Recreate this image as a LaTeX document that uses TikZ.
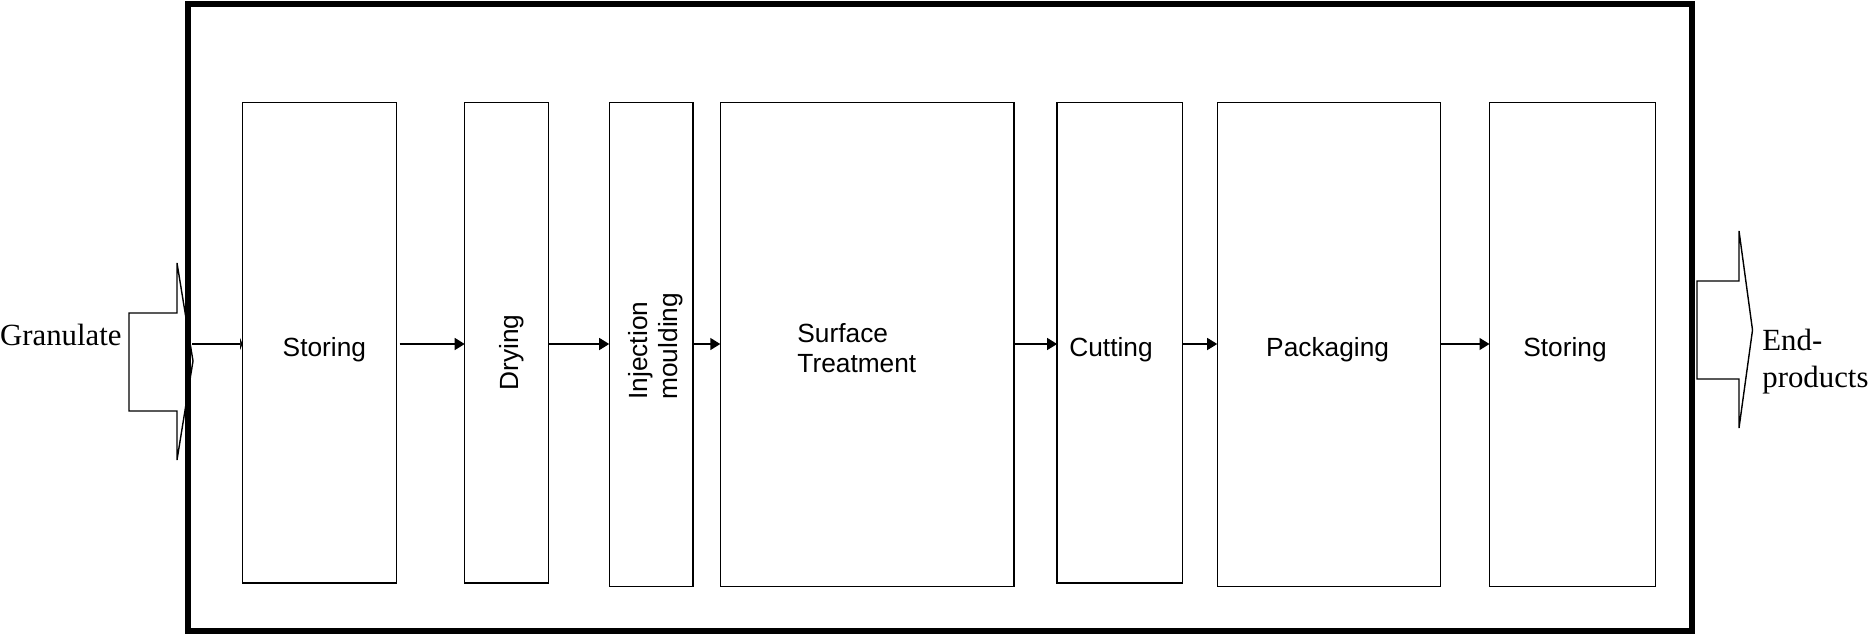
\documentclass[tikz,border=0pt]{standalone}
\usepackage{fontspec}
\setmainfont{Liberation Serif}
\setsansfont{Liberation Sans}
\usetikzlibrary{arrows.meta}
\begin{document}
\begin{tikzpicture}[x=0.5pt,y=-0.5pt,
  box/.style={draw, line width=0.7pt, inner sep=0pt, outer sep=0pt},
  frame/.style={draw, line width=3pt, inner sep=0pt, outer sep=0pt},
  lbl/.style={inner sep=0pt, font=\sffamily\fontsize{13.15}{15}\selectfont},
  slbl/.style={inner sep=0pt, font=\rmfamily\fontsize{15.4}{18.5}\selectfont},
  flow/.style={line width=0.7pt, -{Triangle[length=5pt,width=6pt]}},
  bigarrow/.style={draw, line width=0.7pt, fill=white, line join=miter}]
\useasboundingbox (0,0) rectangle (1873,638);
\coordinate (ay) at (0,344);
% big input / output arrows
\draw[bigarrow] (129,313) -- (177,313) -- (177,263) -- (193,361) -- (177,460) -- (177,411) -- (129,411) -- cycle;
\coordinate (gtip) at (192,361);
\draw[bigarrow] (1697,281) -- (1739,281) -- (1739,231) -- (1752.5,330) -- (1739,428) -- (1739,379) -- (1697,379) -- cycle;
% frame
\node[frame, minimum width=752pt, minimum height=313.5pt] (frame) at (940,317.5) {};
% boxes
\node[box, minimum width=77.05pt, minimum height=240.15pt] (s1) at (319.5,342.9) {};
\node[box, minimum width=41.8pt, minimum height=240.15pt] (dr) at (506.5,342.9) {};
\node[box, minimum width=41.8pt, minimum height=241.9pt] (inj) at (651,344.6) {};
\node[box, minimum width=146.9pt, minimum height=241.9pt] (sur) at (867.2,344.6) {};
\node[box, minimum width=62.75pt, minimum height=240.15pt] (cut) at (1119.85,342.9) {};
\node[box, minimum width=111.7pt, minimum height=241.9pt] (pack) at (1328.9,344.6) {};
\node[box, minimum width=83.05pt, minimum height=241.9pt] (s2) at (1572.55,344.6) {};
% labels
\node[lbl, anchor=base] (ts1) at (324.4,356.5) {Storing};
\node[lbl, rotate=90] (tdr) at (512,352.5) {Drying};
\node[lbl, rotate=90, anchor=west, align=left] (tinj) at (656,400) {Injection\\moulding};
\node[lbl, anchor=base west, align=left] (tsur) at (797,372.7) {Surface\\Treatment};
\node[lbl, anchor=base] (tcut) at (1111,356.8) {Cutting};
\node[lbl, anchor=base] (tpack) at (1327.6,356.8) {Packaging};
\node[lbl, anchor=base] (ts2) at (1565,356.8) {Storing};
\node[slbl, anchor=base east] (tgran) at (122,345) {Granulate};
\node[slbl, anchor=base west, align=left] (tend) at (1762,387) {End-\\products};
% connectors
\draw[line width=0.7pt, -{Triangle[length=1.2pt,width=6pt]}] (gtip |- ay) -- (s1.west |- ay);
\draw[flow, shorten <=1.5pt] (s1.east |- ay) -- (dr.west |- ay);
\draw[flow] (dr.east |- ay) -- (inj.west |- ay);
\draw[flow] (inj.east |- ay) -- (sur.west |- ay);
\draw[flow] (sur.east |- ay) -- (cut.west |- ay);
\draw[flow] (cut.east |- ay) -- (pack.west |- ay);
\draw[flow] (pack.east |- ay) -- (s2.west |- ay);
\end{tikzpicture}
\end{document}
